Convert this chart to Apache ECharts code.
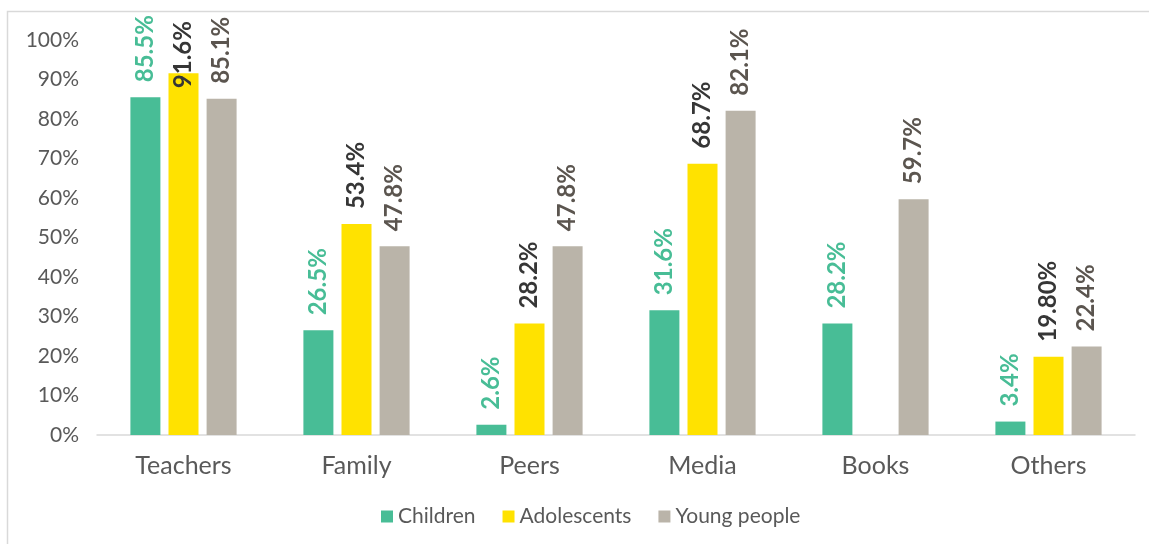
<!DOCTYPE html>
<html>
<head>
<meta charset="utf-8">
<style>
  html, body { margin: 0; padding: 0; background: #fff; }
  #chart { width: 1149px; height: 544px; }
</style>
<script src="https://cdn.jsdelivr.net/npm/echarts@6/dist/echarts.min.js"></script>
</head>
<body>
<div id="chart"></div>
<script>
const categories = ['Teachers', 'Family', 'Peers', 'Media', 'Books', 'Others'];
const children = [85.5, 26.5, 2.6, 31.6, 28.2, 3.4];
const adolescents = [91.6, 53.4, 28.2, 68.7, null, 19.8];
const youngPeople = [85.1, 47.8, 47.8, 82.1, 59.7, 22.4];
const adolescentLabels = ['91.6%', '53.4%', '28.2%', '68.7%', '', '19.80%'];

const font = 'Lato, "Open Sans", sans-serif';
const axisGrey = '#595959';

function barLabel(color, fmt) {
  return {
    show: true,
    position: 'top',
    rotate: 90,
    align: 'left',
    verticalAlign: 'middle',
    distance: 15,
    color: color,
    fontFamily: font,
    fontWeight: 'bold',
    fontSize: 24,
    formatter: fmt || (p => p.value == null ? '' : p.value.toFixed(1) + '%')
  };
}

// labels that would run off the top of the plot are pushed into the bar, like Excel does
function withFit(values) {
  return values.map(v => v != null && v > 88
    ? { value: v, label: { position: 'insideTop', distance: 15 } }
    : v);
}

const chart = echarts.init(document.getElementById('chart'));
chart.setOption({
  backgroundColor: '#fff',
  animation: false,
  graphic: [{
    type: 'rect',
    shape: { x: 7.5, y: 11.5, width: 1200, height: 600 },
    style: { fill: 'none', stroke: '#d9d9d9', lineWidth: 1.5 },
    silent: true
  }],
  grid: { left: 97, right: 14, top: 40, bottom: 109 },
  legend: {
    bottom: 12,
    left: 376,
    itemWidth: 12,
    itemHeight: 12,
    itemGap: 27,
    icon: 'rect',
    textStyle: { color: axisGrey, fontFamily: font, fontSize: 21 },
    data: ['Children', 'Adolescents', 'Young people']
  },
  xAxis: {
    type: 'category',
    data: categories,
    axisTick: { show: false },
    axisLine: { lineStyle: { color: '#d9d9d9', width: 1.5 } },
    axisLabel: { color: axisGrey, fontFamily: font, fontSize: 25, margin: 18 }
  },
  yAxis: {
    type: 'value',
    min: 0,
    max: 100,
    interval: 10,
    splitLine: { show: false },
    axisLine: { show: false },
    axisTick: { show: false },
    axisLabel: { color: axisGrey, fontFamily: font, fontSize: 21, margin: 18, formatter: '{value}%' }
  },
  series: [
    {
      name: 'Children',
      type: 'bar',
      data: children,
      barWidth: 30,
      barGap: '27%',
      itemStyle: { color: '#48bd96' },
      label: barLabel('#48bd96')
    },
    {
      name: 'Adolescents',
      type: 'bar',
      data: withFit(adolescents),
      barWidth: 30,
      barGap: '27%',
      itemStyle: { color: '#ffe200' },
      label: barLabel('#363636', p => adolescentLabels[p.dataIndex])
    },
    {
      name: 'Young people',
      type: 'bar',
      data: youngPeople,
      barWidth: 30,
      barGap: '27%',
      itemStyle: { color: '#bab4a9' },
      label: barLabel('#5b554f')
    }
  ]
});
</script>
</body>
</html>
